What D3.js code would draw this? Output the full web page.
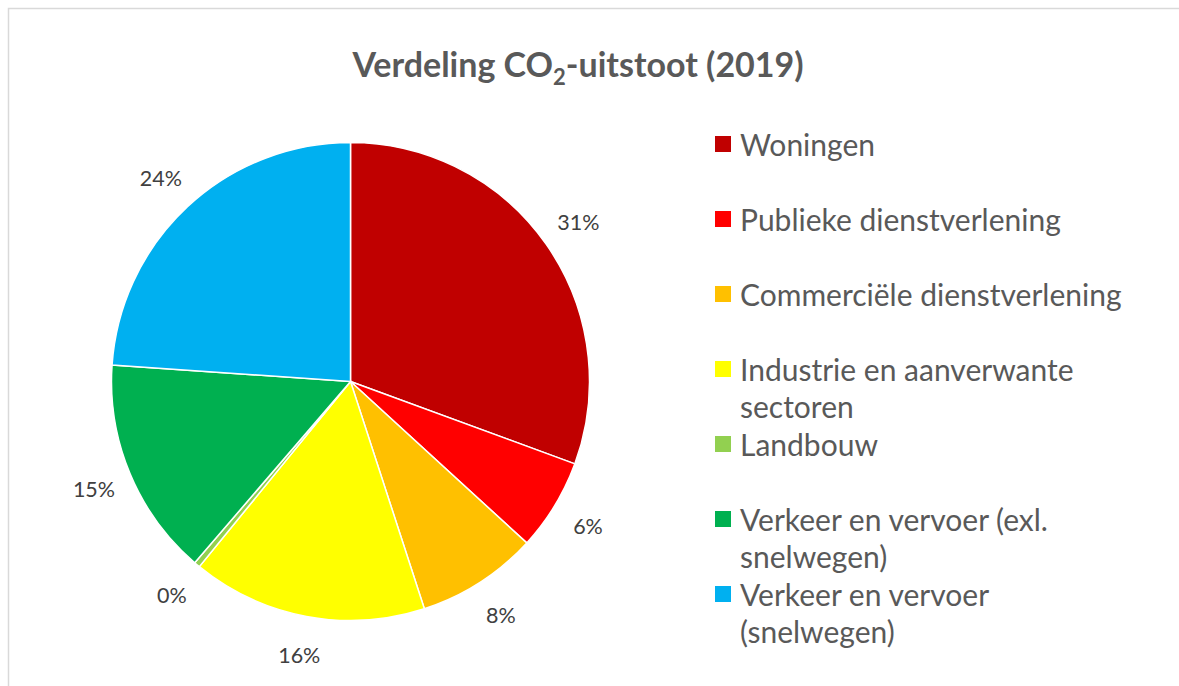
<!DOCTYPE html>
<html>
<head>
<meta charset="utf-8">
<script src="https://cdn.jsdelivr.net/npm/d3@7"></script>
<style>
  body { margin: 0; background: #fff; }
  text { font-family: Lato, "Open Sans", sans-serif; }
</style>
</head>
<body>
<svg id="chart"></svg>
<script>
let categories = ["Woningen", "Publieke dienstverlening", "Commerciële dienstverlening",
    "Industrie en aanverwante sectoren", "Landbouw", "Verkeer en vervoer (exl. snelwegen)",
    "Verkeer en vervoer (snelwegen)"];
let legendLines = [["Woningen"], ["Publieke dienstverlening"], ["Commerciële dienstverlening"],
    ["Industrie en aanverwante", "sectoren"], ["Landbouw"], ["Verkeer en vervoer (exl.", "snelwegen)"],
    ["Verkeer en vervoer", "(snelwegen)"]];
let values = [30.6, 6.2, 8.2, 15.9, 0.4, 14.8, 23.9];
let colors = ["#C00000", "#FF0000", "#FFC000", "#FFFF00", "#92D050", "#00B050", "#00B0F0"];

let width = 1179, height = 686;
let svg = d3.select("#chart").attr("width", width).attr("height", height);

// chart border (runs off the right and bottom)
svg.append("rect")
    .attr("x", 8.5).attr("y", 8.5)
    .attr("width", width + 20).attr("height", height + 20)
    .attr("fill", "#fff").attr("stroke", "#d9d9d9").attr("stroke-width", 1.5);

// title
let title = svg.append("text")
    .attr("x", 578).attr("y", 77)
    .attr("text-anchor", "middle")
    .attr("fill", "#595959")
    .attr("font-size", 34).attr("font-weight", "bold");
title.append("tspan").text("Verdeling CO");
title.append("tspan").text("2").attr("font-size", 22).attr("dy", 8);
title.append("tspan").text("-uitstoot (2019)").attr("dy", -8);

let cx = 350.5, cy = 381.5, radius = 239;
let total = d3.sum(values);

let pie = d3.pie().sort(null).value(d => d);
let arcs = pie(values);
let arc = d3.arc().innerRadius(0).outerRadius(radius);
let labelArc = d3.arc().innerRadius(278).outerRadius(278);

let g = svg.append("g").attr("transform", `translate(${cx},${cy})`);

g.selectAll("path.slice")
    .data(arcs)
    .join("path")
    .attr("class", "slice")
    .attr("d", arc)
    .attr("fill", (d, i) => colors[i])
    .attr("stroke", "#fff")
    .attr("stroke-width", 1.5);

g.selectAll("text.label")
    .data(arcs)
    .join("text")
    .attr("class", "label")
    .attr("transform", d => `translate(${labelArc.centroid(d)})`)
    .attr("text-anchor", "middle")
    .attr("dominant-baseline", "central")
    .attr("fill", "#404040")
    .attr("font-size", 21.5)
    .text(d => Math.round(d.value / total * 100) + "%");

// legend
let legendY = d3.scalePoint().domain(d3.range(categories.length)).range([144, 594]);
let legend = svg.append("g");
let items = legend.selectAll("g.item")
    .data(categories)
    .join("g")
    .attr("class", "item")
    .attr("transform", (d, i) => `translate(715,${legendY(i)})`);

items.append("rect")
    .attr("x", 0).attr("y", -8)
    .attr("width", 16).attr("height", 16)
    .attr("fill", (d, i) => colors[i]);

items.append("text")
    .attr("fill", "#595959")
    .attr("font-size", 30)
    .selectAll("tspan")
    .data((d, i) => legendLines[i])
    .join("tspan")
    .attr("x", 25)
    .attr("y", (d, j) => j * 37)
    .attr("dominant-baseline", "central")
    .text(d => d);
</script>
</body>
</html>
